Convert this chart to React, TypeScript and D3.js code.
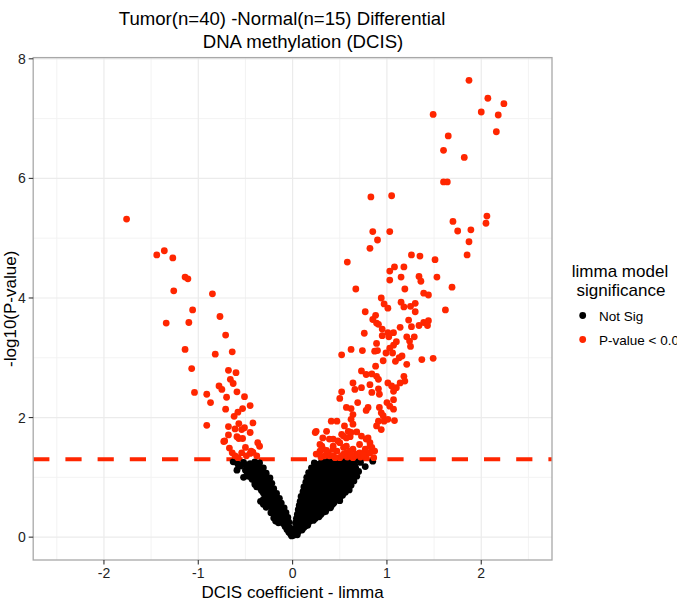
import React from "react";
import * as d3 from "d3";

// Volcano plot: limma coefficient vs -log10(P-value)
const titleLines = ["Tumor(n=40) -Normal(n=15) Differential", "DNA methylation (DCIS)"];
const xTicks = [-2, -1, 0, 1, 2];
const yTicks = [0, 2, 4, 6, 8];
const xMinor = [-2.5, -1.5, -0.5, 0.5, 1.5, 2.5];
const yMinor = [1, 3, 5, 7];
const pThreshold = 0.05;
const legendLabels = ["Not Sig", "P-value < 0.05"];

// [coefficient, -log10(P)] for probes that are not significant
const notSigPoints: [number, number][] = [
  [-0.01, 0.02], [-0.02, 0.05], [-0.04, 0.08], [-0.02, 0.11], [-0.06, 0.13], [-0.03, 0.16],
  [-0.08, 0.18], [-0.05, 0.21], [-0.1, 0.23], [-0.04, 0.25], [-0.07, 0.27], [-0.12, 0.29],
  [-0.15, 0.24], [-0.18, 0.27], [-0.16, 0.3], [-0.2, 0.32], [-0.05, 0.33], [-0.09, 0.35],
  [-0.14, 0.36], [-0.19, 0.38], [-0.07, 0.41], [-0.11, 0.43], [-0.16, 0.44], [-0.21, 0.46],
  [-0.23, 0.41], [-0.09, 0.49], [-0.13, 0.5], [-0.18, 0.52], [-0.24, 0.53], [-0.28, 0.5],
  [-0.31, 0.55], [-0.12, 0.57], [-0.16, 0.58], [-0.21, 0.6], [-0.27, 0.61], [-0.31, 0.63],
  [-0.34, 0.6], [-0.14, 0.65], [-0.19, 0.67], [-0.24, 0.68], [-0.29, 0.7], [-0.17, 0.73],
  [-0.22, 0.75], [-0.27, 0.76], [-0.33, 0.78], [-0.2, 0.81], [-0.25, 0.83], [-0.3, 0.84],
  [-0.35, 0.86], [-0.4, 0.88], [-0.22, 0.9], [-0.27, 0.92], [-0.32, 0.93], [-0.37, 0.95],
  [-0.43, 0.97], [-0.24, 0.99], [-0.3, 1.0], [-0.35, 1.01], [-0.41, 1.03], [-0.47, 1.02],
  [-0.52, 1.0], [-0.28, 1.07], [-0.33, 1.08], [-0.39, 1.1], [-0.45, 1.09], [-0.5, 1.12],
  [-0.59, 1.12], [-0.31, 1.16], [-0.36, 1.17], [-0.42, 1.18], [-0.48, 1.16], [-0.55, 1.19],
  [-0.35, 1.24], [-0.4, 1.26], [-0.45, 1.23], [-0.52, 1.25], [-0.63, 1.26], [-0.58, 1.22],
  [-0.03, 0.13], [-0.06, 0.22], [-0.09, 0.28], [-0.12, 0.33], [-0.17, 0.35], [-0.1, 0.39],
  [-0.14, 0.41], [-0.19, 0.42], [-0.12, 0.46], [-0.17, 0.48], [-0.22, 0.5], [-0.15, 0.54],
  [-0.2, 0.55], [-0.26, 0.57], [-0.18, 0.62], [-0.23, 0.64], [-0.28, 0.66], [-0.21, 0.7],
  [-0.26, 0.72], [-0.31, 0.74], [-0.24, 0.79], [-0.29, 0.8], [-0.34, 0.82], [-0.38, 0.84],
  [-0.25, 0.87], [-0.3, 0.89], [-0.35, 0.9], [-0.4, 0.92], [-0.27, 0.96], [-0.33, 0.97],
  [-0.38, 0.98], [-0.44, 1.0], [-0.31, 1.04], [-0.37, 1.05], [-0.43, 1.06], [-0.48, 1.07],
  [-0.34, 1.12], [-0.4, 1.14], [-0.46, 1.13], [-0.38, 1.2], [-0.43, 1.21], [-0.49, 1.21],
  [0.01, 0.03], [0.03, 0.06], [0.02, 0.1], [0.06, 0.09], [0.1, 0.12],
  [0.03, 0.15], [0.07, 0.17], [0.12, 0.16], [0.16, 0.2], [0.05, 0.2],
  [0.03, 0.24], [0.08, 0.25], [0.13, 0.23], [0.18, 0.26], [0.22, 0.28], [0.1, 0.28],
  [0.04, 0.31], [0.09, 0.32], [0.14, 0.3], [0.19, 0.33], [0.24, 0.31], [0.28, 0.34],
  [0.05, 0.38], [0.1, 0.4], [0.15, 0.37], [0.2, 0.39], [0.25, 0.41], [0.3, 0.38], [0.33, 0.42],
  [0.06, 0.46], [0.11, 0.44], [0.16, 0.47], [0.21, 0.45], [0.26, 0.48], [0.31, 0.44], [0.36, 0.47], [0.4, 0.49],
  [0.07, 0.53], [0.12, 0.51], [0.18, 0.54], [0.23, 0.52], [0.28, 0.55], [0.33, 0.51], [0.38, 0.54], [0.43, 0.56],
  [0.08, 0.6], [0.13, 0.62], [0.19, 0.58], [0.24, 0.61], [0.3, 0.59], [0.35, 0.63], [0.4, 0.6], [0.46, 0.62], [0.5, 0.61],
  [0.09, 0.68], [0.15, 0.66], [0.2, 0.7], [0.26, 0.67], [0.31, 0.69], [0.37, 0.66], [0.42, 0.71], [0.48, 0.68], [0.53, 0.7],
  [0.11, 0.76], [0.16, 0.78], [0.22, 0.74], [0.27, 0.77], [0.33, 0.75], [0.39, 0.79], [0.44, 0.76], [0.5, 0.78], [0.56, 0.75],
  [0.12, 0.84], [0.18, 0.82], [0.23, 0.86], [0.29, 0.83], [0.35, 0.85], [0.4, 0.82], [0.46, 0.87], [0.52, 0.84], [0.58, 0.83], [0.62, 0.87],
  [0.14, 0.92], [0.19, 0.9], [0.25, 0.94], [0.31, 0.91], [0.36, 0.93], [0.42, 0.9], [0.48, 0.95], [0.54, 0.92], [0.6, 0.91], [0.65, 0.94],
  [0.15, 1.0], [0.21, 0.98], [0.27, 1.02], [0.32, 0.99], [0.38, 1.01], [0.44, 0.98], [0.5, 1.03], [0.56, 1.0], [0.62, 0.99], [0.68, 1.02],
  [0.17, 1.08], [0.23, 1.06], [0.29, 1.1], [0.34, 1.07], [0.4, 1.09], [0.46, 1.06], [0.52, 1.11], [0.58, 1.08], [0.64, 1.07], [0.7, 1.1],
  [0.2, 1.16], [0.26, 1.14], [0.31, 1.18], [0.37, 1.15], [0.43, 1.17], [0.49, 1.14], [0.55, 1.19], [0.61, 1.16], [0.67, 1.15], [0.77, 1.18],
  [0.23, 1.24], [0.28, 1.22], [0.34, 1.27], [0.4, 1.23], [0.46, 1.26], [0.52, 1.22], [0.58, 1.28], [0.64, 1.24], [0.72, 1.25], [0.85, 1.27],
  [0.02, 0.13], [0.05, 0.04], [0.08, 0.21], [0.14, 0.19], [0.05, 0.27], [0.15, 0.27], [0.2, 0.3],
  [0.07, 0.35], [0.12, 0.36], [0.17, 0.34], [0.22, 0.36], [0.27, 0.37], [0.08, 0.42], [0.13, 0.42],
  [0.18, 0.43], [0.23, 0.43], [0.28, 0.44], [0.35, 0.43], [0.09, 0.5], [0.14, 0.49], [0.2, 0.5],
  [0.25, 0.5], [0.3, 0.52], [0.36, 0.5], [0.41, 0.52], [0.1, 0.56], [0.15, 0.57], [0.21, 0.56],
  [0.26, 0.58], [0.32, 0.56], [0.37, 0.58], [0.44, 0.58], [0.11, 0.64], [0.17, 0.64], [0.22, 0.65],
  [0.28, 0.63], [0.33, 0.65], [0.38, 0.62], [0.44, 0.66], [0.5, 0.65], [0.12, 0.72], [0.18, 0.72],
  [0.24, 0.71], [0.29, 0.73], [0.35, 0.72], [0.4, 0.74], [0.46, 0.73], [0.52, 0.74], [0.14, 0.8],
  [0.2, 0.79], [0.25, 0.81], [0.31, 0.8], [0.37, 0.81], [0.42, 0.79], [0.48, 0.81], [0.54, 0.8],
  [0.6, 0.79], [0.16, 0.88], [0.21, 0.87], [0.27, 0.89], [0.33, 0.88], [0.38, 0.89], [0.44, 0.86],
  [0.5, 0.89], [0.56, 0.88], [0.17, 0.96], [0.23, 0.95], [0.29, 0.97], [0.34, 0.96], [0.4, 0.97],
  [0.46, 0.94], [0.52, 0.97], [0.58, 0.96], [0.64, 0.97], [0.19, 1.04], [0.25, 1.04], [0.31, 1.05],
  [0.36, 1.03], [0.42, 1.05], [0.48, 1.02], [0.54, 1.05], [0.6, 1.04], [0.66, 1.05], [0.22, 1.12],
  [0.28, 1.12], [0.33, 1.13], [0.39, 1.12], [0.45, 1.13], [0.51, 1.1], [0.57, 1.13], [0.63, 1.12],
  [0.25, 1.2], [0.3, 1.21], [0.36, 1.2], [0.42, 1.21], [0.48, 1.2], [0.54, 1.23], [0.6, 1.21],
  [0.66, 1.2], [0.31, 1.28], [0.37, 1.29], [0.43, 1.29], [0.49, 1.28], [0.55, 1.27], [0.61, 1.29],
  [0.68, 1.29],
];

// [coefficient, -log10(P)] for probes with P < 0.05
const sigPoints: [number, number][] = [
  [1.87, 7.64], [2.07, 7.34], [2.24, 7.25], [2.0, 7.11], [2.18, 7.06], [1.49, 7.07], [2.16, 6.78],
  [1.65, 6.71], [1.6, 6.47], [1.82, 6.35], [1.6, 5.94], [1.64, 5.94], [0.83, 5.69], [1.05, 5.71],
  [2.06, 5.37], [2.05, 5.25], [1.7, 5.28], [1.75, 5.12], [1.89, 5.14], [0.85, 5.11], [1.03, 5.11],
  [0.9, 4.97], [1.87, 4.94], [0.82, 4.83], [1.85, 4.72], [1.26, 4.72], [1.35, 4.7], [0.58, 4.6],
  [1.51, 4.64], [1.08, 4.52], [1.03, 4.45], [1.18, 4.52], [1.15, 4.35], [1.03, 4.3], [1.34, 4.36],
  [1.36, 4.28], [1.53, 4.35], [0.67, 4.15], [1.19, 4.15], [1.69, 4.18], [1.39, 4.08], [1.44, 4.05],
  [0.94, 4.0], [1.15, 3.93], [0.97, 3.9], [1.01, 3.83], [1.18, 3.85], [1.25, 3.86], [1.3, 3.91],
  [1.3, 3.77], [0.77, 3.77], [1.62, 3.8], [0.88, 3.71], [0.85, 3.64], [0.89, 3.58], [0.91, 3.56],
  [1.23, 3.63], [1.39, 3.59], [1.44, 3.62], [1.43, 3.54], [1.34, 3.54], [1.26, 3.52], [1.14, 3.51],
  [0.95, 3.48], [0.76, 3.41], [1.01, 3.42], [1.07, 3.42], [0.95, 3.37], [1.02, 3.35], [1.21, 3.35],
  [1.29, 3.35], [1.24, 3.28], [0.89, 3.24], [1.1, 3.27], [1.07, 3.21], [1.03, 3.16], [0.99, 3.08],
  [1.06, 3.08], [1.25, 3.19], [0.87, 3.11], [0.9, 3.12], [0.74, 3.12], [0.62, 3.14], [0.52, 3.05],
  [1.16, 3.03], [1.13, 3.0], [1.09, 2.94], [0.96, 2.95], [1.37, 2.97], [1.49, 2.99], [1.21, 2.89],
  [0.88, 2.86], [0.73, 2.78], [0.78, 2.72], [0.84, 2.73], [0.89, 2.69], [1.18, 2.69], [0.91, 2.64],
  [0.64, 2.58], [0.66, 2.47], [0.73, 2.5], [0.82, 2.55], [0.84, 2.42], [0.91, 2.48], [0.92, 2.39],
  [0.52, 2.43], [0.5, 2.32], [0.69, 2.25], [0.8, 2.17], [0.78, 2.12], [0.57, 2.17], [0.62, 2.15],
  [0.64, 2.05], [1.01, 2.58], [1.05, 2.53], [1.07, 2.44], [1.1, 2.5], [1.14, 2.58], [1.19, 2.61],
  [1.0, 2.25], [1.03, 2.19], [1.07, 2.14], [1.07, 2.3], [0.92, 2.17], [0.94, 2.08], [0.96, 2.03],
  [0.97, 1.94], [0.91, 1.94], [0.89, 1.86], [0.94, 1.8], [1.01, 1.97], [1.08, 1.95], [0.41, 1.94],
  [0.47, 1.94], [0.62, 1.97], [0.64, 1.89], [0.55, 1.86], [0.59, 1.77], [0.54, 1.69], [0.61, 1.68],
  [0.68, 1.76], [0.25, 1.77], [0.36, 1.77], [0.32, 1.66], [0.39, 1.64], [0.31, 1.52], [0.43, 1.52],
  [0.5, 1.58], [0.73, 1.69], [0.8, 1.66], [0.82, 1.58], [0.84, 1.5], [0.77, 1.47], [0.71, 1.55],
  [0.57, 1.52], [0.64, 1.47], [0.59, 1.41], [0.68, 1.39], [0.54, 1.39], [0.47, 1.44], [0.38, 1.41],
  [0.29, 1.44], [0.39, 1.36], [0.5, 1.33], [0.64, 1.33], [0.78, 1.36], [0.87, 1.44],
  [0.24, 1.75], [0.29, 1.55], [0.32, 1.47], [0.43, 1.47], [0.43, 1.64], [0.48, 1.61], [0.52, 1.72],
  [0.57, 1.66], [0.62, 1.75], [0.78, 1.64], [0.82, 1.52], [0.77, 1.44], [0.71, 1.41], [0.66, 1.36],
  [0.82, 1.41], [0.54, 1.5], [0.57, 1.41], [0.61, 1.44], [0.25, 1.39], [0.34, 1.36], [0.43, 1.36],
  [0.52, 1.36], [0.3, 1.34], [0.45, 1.33], [0.58, 1.34], [0.72, 1.34], [0.86, 1.33], [0.36, 1.45],
  [0.62, 1.38], [0.75, 1.38],
  [-1.76, 5.32], [-1.44, 4.72], [-1.36, 4.79], [-1.27, 4.67], [-1.14, 4.35], [-1.11, 4.32],
  [-1.26, 4.12], [-0.85, 4.07], [-1.06, 3.8], [-1.34, 3.58], [-1.1, 3.59], [-0.77, 3.69],
  [-0.71, 3.38], [-1.14, 3.14], [-0.82, 3.06], [-0.64, 3.1], [-1.07, 2.82], [-0.68, 2.79],
  [-0.6, 2.75], [-0.66, 2.64], [-0.63, 2.57], [-0.78, 2.53], [-0.75, 2.47], [-0.59, 2.43],
  [-1.04, 2.42], [-0.91, 2.39], [-0.87, 2.25], [-0.7, 2.34], [-0.51, 2.35], [-0.71, 2.14],
  [-0.62, 2.02], [-0.58, 2.09], [-0.53, 2.15], [-0.45, 2.2], [-0.91, 1.87], [-0.68, 1.85],
  [-0.61, 1.81], [-0.57, 1.9], [-0.54, 1.8], [-0.42, 1.91], [-0.45, 1.75], [-0.68, 1.71],
  [-0.59, 1.68], [-0.57, 1.65], [-0.53, 1.65], [-0.73, 1.6], [-0.67, 1.49], [-0.64, 1.41],
  [-0.5, 1.5], [-0.54, 1.41], [-0.49, 1.36], [-0.45, 1.4], [-0.42, 1.42], [-0.37, 1.58],
  [-0.35, 1.52], [-0.61, 1.36], [-0.58, 1.33], [-0.51, 1.83], [-0.72, 1.61], [-0.44, 1.44],
  [-0.38, 1.36],
];

const W = 677;
const H = 606;
const panel = { left: 33.2, right: 552, top: 57.6, bottom: 560 };
const FONT = "'Liberation Sans', Arial, Helvetica, sans-serif";
const RED = "#FF2600";
const BLACK = "#000000";
const R = 3.4;

export default function App() {
  const x = d3.scaleLinear().domain([-2.75, 2.75]).range([panel.left, panel.right]);
  const y = d3.scaleLinear().domain([-0.382, 8.02]).range([panel.bottom, panel.top]);
  const yThresh = y(-Math.log10(pThreshold));

  return (
    <svg
      width={W}
      height={H}
      style={{ position: "absolute", left: 0, top: 0, background: "#fff" }}
      fontFamily={FONT}
    >
      <rect x={0} y={0} width={W} height={H} fill="#fff" />

      {/* grid */}
      {xMinor.map((v) => (
        <line key={"xm" + v} x1={x(v)} x2={x(v)} y1={panel.top} y2={panel.bottom} stroke="#F2F2F2" strokeWidth={0.9} />
      ))}
      {yMinor.map((v) => (
        <line key={"ym" + v} x1={panel.left} x2={panel.right} y1={y(v)} y2={y(v)} stroke="#F2F2F2" strokeWidth={0.9} />
      ))}
      {xTicks.map((v) => (
        <line key={"xg" + v} x1={x(v)} x2={x(v)} y1={panel.top} y2={panel.bottom} stroke="#EBEBEB" strokeWidth={1.2} />
      ))}
      {yTicks.map((v) => (
        <line key={"yg" + v} x1={panel.left} x2={panel.right} y1={y(v)} y2={y(v)} stroke="#EBEBEB" strokeWidth={1.2} />
      ))}

      {/* significance threshold */}
      <line
        x1={panel.left}
        x2={panel.right}
        y1={yThresh}
        y2={yThresh}
        stroke={RED}
        strokeWidth={4}
        strokeDasharray="16.2,16"
      />

      {/* points */}
      <g>
        {notSigPoints.map(([cx, cy], i) => (
          <circle key={"n" + i} cx={x(cx)} cy={y(cy)} r={R} fill={BLACK} />
        ))}
        {sigPoints.map(([cx, cy], i) => (
          <circle key={"s" + i} cx={x(cx)} cy={y(cy)} r={R} fill={RED} />
        ))}
      </g>

      {/* panel border */}
      <rect
        x={panel.left}
        y={panel.top}
        width={panel.right - panel.left}
        height={panel.bottom - panel.top}
        fill="none"
        stroke="#A8A8A8"
        strokeWidth={1.3}
      />

      {/* axes ticks and labels */}
      {xTicks.map((v) => (
        <g key={"xt" + v}>
          <line x1={x(v)} x2={x(v)} y1={panel.bottom} y2={panel.bottom + 4.5} stroke="#333" strokeWidth={1.1} />
          <text x={x(v)} y={panel.bottom + 18} textAnchor="middle" fontSize={14} fill="#222">
            {v}
          </text>
        </g>
      ))}
      {yTicks.map((v) => (
        <g key={"yt" + v}>
          <line x1={panel.left - 4.5} x2={panel.left} y1={y(v)} y2={y(v)} stroke="#333" strokeWidth={1.1} />
          <text x={panel.left - 7.5} y={y(v) + 5} textAnchor="end" fontSize={14} fill="#222">
            {v}
          </text>
        </g>
      ))}

      {/* axis titles */}
      <text x={(panel.left + panel.right) / 2} y={598} textAnchor="middle" fontSize={17} fill="#000">
        DCIS coefficient - limma
      </text>
      <text
        transform={`translate(16,${(panel.top + panel.bottom) / 2}) rotate(-90)`}
        textAnchor="middle"
        fontSize={17}
        fill="#000"
      >
        -log10(P-value)
      </text>

      {/* title */}
      <text x={282} y={25} textAnchor="middle" fontSize={18.6} fill="#000">
        {titleLines[0]}
      </text>
      <text x={303} y={48} textAnchor="middle" fontSize={18.6} fill="#000">
        {titleLines[1]}
      </text>

      {/* legend */}
      <text x={620} y={277} textAnchor="middle" fontSize={17} fill="#000">
        limma model
      </text>
      <text x={621} y={296} textAnchor="middle" fontSize={17} fill="#000">
        significance
      </text>
      {legendLabels.map((lab, i) => (
        <g key={lab}>
          <circle cx={582.7} cy={315.5 + i * 24} r={R} fill={i === 0 ? BLACK : RED} />
          <text x={599} y={320.5 + i * 24} fontSize={13.5} fill="#000">
            {lab}
          </text>
        </g>
      ))}
    </svg>
  );
}
